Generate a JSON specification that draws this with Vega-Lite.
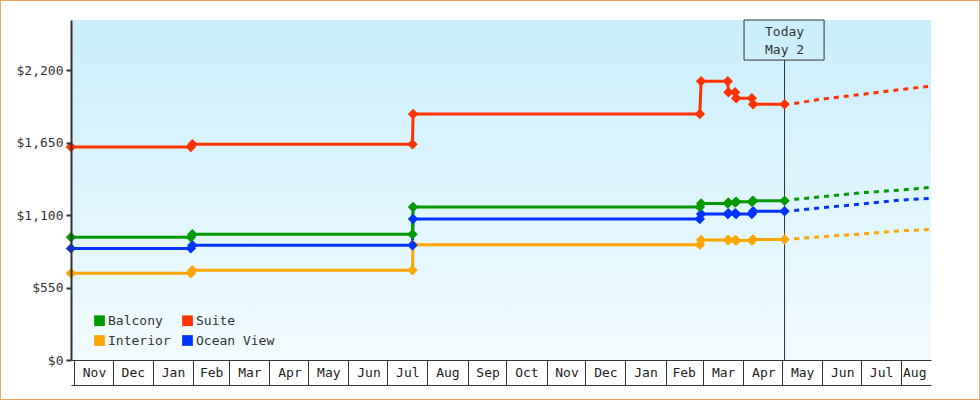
{
  "$schema": "https://vega.github.io/schema/vega-lite/v6.json",
  "width": 980,
  "height": 400,
  "autosize": {"type": "none"},
  "padding": 0,
  "background": "white",
  "config": {
    "view": {"stroke": "#e8a862", "strokeWidth": 2, "fill": "white"},
    "font": "DejaVu Sans Mono"
  },
  "datasets": {
    "history": [
      {"cabin": "Interior", "date": "2022-10-29T16:00:00", "price": 658},
      {"cabin": "Interior", "date": "2023-01-30T06:00:00", "price": 658},
      {"cabin": "Interior", "date": "2023-01-31T10:00:00", "price": 681},
      {"cabin": "Interior", "date": "2023-07-20T10:00:00", "price": 681},
      {"cabin": "Interior", "date": "2023-07-20T22:00:00", "price": 874},
      {"cabin": "Interior", "date": "2024-02-27T10:00:00", "price": 874},
      {"cabin": "Interior", "date": "2024-02-28T10:00:00", "price": 910},
      {"cabin": "Interior", "date": "2024-03-20T00:00:00", "price": 910},
      {"cabin": "Interior", "date": "2024-03-20T12:00:00", "price": 910},
      {"cabin": "Interior", "date": "2024-03-25T17:00:00", "price": 910},
      {"cabin": "Interior", "date": "2024-03-26T12:00:00", "price": 906},
      {"cabin": "Interior", "date": "2024-04-07T14:00:00", "price": 906},
      {"cabin": "Interior", "date": "2024-04-08T14:00:00", "price": 915},
      {"cabin": "Interior", "date": "2024-05-02T21:00:00", "price": 915},
      {"cabin": "Ocean View", "date": "2022-10-29T16:00:00", "price": 847},
      {"cabin": "Ocean View", "date": "2023-01-30T06:00:00", "price": 847},
      {"cabin": "Ocean View", "date": "2023-01-31T10:00:00", "price": 870},
      {"cabin": "Ocean View", "date": "2023-07-20T10:00:00", "price": 870},
      {"cabin": "Ocean View", "date": "2023-07-20T22:00:00", "price": 1070},
      {"cabin": "Ocean View", "date": "2024-02-27T10:00:00", "price": 1070},
      {"cabin": "Ocean View", "date": "2024-02-28T10:00:00", "price": 1108},
      {"cabin": "Ocean View", "date": "2024-03-20T00:00:00", "price": 1108},
      {"cabin": "Ocean View", "date": "2024-03-20T12:00:00", "price": 1113},
      {"cabin": "Ocean View", "date": "2024-03-25T17:00:00", "price": 1113},
      {"cabin": "Ocean View", "date": "2024-03-26T12:00:00", "price": 1108},
      {"cabin": "Ocean View", "date": "2024-04-07T14:00:00", "price": 1108},
      {"cabin": "Ocean View", "date": "2024-04-08T14:00:00", "price": 1128},
      {"cabin": "Ocean View", "date": "2024-05-02T21:00:00", "price": 1128},
      {"cabin": "Balcony", "date": "2022-10-29T16:00:00", "price": 931},
      {"cabin": "Balcony", "date": "2023-01-30T06:00:00", "price": 931},
      {"cabin": "Balcony", "date": "2023-01-31T10:00:00", "price": 954},
      {"cabin": "Balcony", "date": "2023-07-20T10:00:00", "price": 954},
      {"cabin": "Balcony", "date": "2023-07-20T22:00:00", "price": 1161},
      {"cabin": "Balcony", "date": "2024-02-27T10:00:00", "price": 1161},
      {"cabin": "Balcony", "date": "2024-02-28T10:00:00", "price": 1188},
      {"cabin": "Balcony", "date": "2024-03-20T00:00:00", "price": 1188},
      {"cabin": "Balcony", "date": "2024-03-20T12:00:00", "price": 1196},
      {"cabin": "Balcony", "date": "2024-03-25T17:00:00", "price": 1196},
      {"cabin": "Balcony", "date": "2024-03-26T12:00:00", "price": 1201},
      {"cabin": "Balcony", "date": "2024-04-07T14:00:00", "price": 1201},
      {"cabin": "Balcony", "date": "2024-04-08T14:00:00", "price": 1208},
      {"cabin": "Balcony", "date": "2024-05-02T21:00:00", "price": 1208},
      {"cabin": "Suite", "date": "2022-10-29T16:00:00", "price": 1616},
      {"cabin": "Suite", "date": "2023-01-30T06:00:00", "price": 1616},
      {"cabin": "Suite", "date": "2023-01-31T10:00:00", "price": 1638},
      {"cabin": "Suite", "date": "2023-07-20T10:00:00", "price": 1638},
      {"cabin": "Suite", "date": "2023-07-20T22:00:00", "price": 1866},
      {"cabin": "Suite", "date": "2024-02-27T10:00:00", "price": 1866},
      {"cabin": "Suite", "date": "2024-02-28T10:00:00", "price": 2115},
      {"cabin": "Suite", "date": "2024-03-20T00:00:00", "price": 2115},
      {"cabin": "Suite", "date": "2024-03-20T12:00:00", "price": 2032},
      {"cabin": "Suite", "date": "2024-03-25T17:00:00", "price": 2032},
      {"cabin": "Suite", "date": "2024-03-26T12:00:00", "price": 1987},
      {"cabin": "Suite", "date": "2024-04-07T14:00:00", "price": 1987},
      {"cabin": "Suite", "date": "2024-04-08T14:00:00", "price": 1940},
      {"cabin": "Suite", "date": "2024-05-02T21:00:00", "price": 1940}
    ],
    "projection": [
      {"cabin": "Interior", "date": "2024-05-10T08:00:00", "price": 920},
      {"cabin": "Interior", "date": "2024-06-01T00:00:00", "price": 936},
      {"cabin": "Interior", "date": "2024-07-01T00:00:00", "price": 956},
      {"cabin": "Interior", "date": "2024-08-01T00:00:00", "price": 981},
      {"cabin": "Interior", "date": "2024-08-24T00:00:00", "price": 991},
      {"cabin": "Ocean View", "date": "2024-05-10T08:00:00", "price": 1135},
      {"cabin": "Ocean View", "date": "2024-06-01T00:00:00", "price": 1156},
      {"cabin": "Ocean View", "date": "2024-07-01T00:00:00", "price": 1183},
      {"cabin": "Ocean View", "date": "2024-08-01T00:00:00", "price": 1214},
      {"cabin": "Ocean View", "date": "2024-08-24T00:00:00", "price": 1226},
      {"cabin": "Balcony", "date": "2024-05-10T08:00:00", "price": 1219},
      {"cabin": "Balcony", "date": "2024-06-01T00:00:00", "price": 1239},
      {"cabin": "Balcony", "date": "2024-07-01T00:00:00", "price": 1269},
      {"cabin": "Balcony", "date": "2024-08-01T00:00:00", "price": 1290},
      {"cabin": "Balcony", "date": "2024-08-24T00:00:00", "price": 1310},
      {"cabin": "Suite", "date": "2024-05-10T08:00:00", "price": 1947},
      {"cabin": "Suite", "date": "2024-06-01T00:00:00", "price": 1980},
      {"cabin": "Suite", "date": "2024-07-01T00:00:00", "price": 2015},
      {"cabin": "Suite", "date": "2024-08-01T00:00:00", "price": 2053},
      {"cabin": "Suite", "date": "2024-08-24T00:00:00", "price": 2078}
    ],
    "one": [{}]
  },
  "resolve": {"axis": {"x": "independent"}},
  "layer": [
    {
      "data": {"name": "one"},
      "mark": {
        "type": "rect",
        "fill": {
          "gradient": "linear", "x1": 0, "y1": 0, "x2": 0, "y2": 1,
          "stops": [
            {"offset": 0, "color": "#c9eefc"},
            {"offset": 1, "color": "#f2fbff"}
          ]
        }
      },
      "encoding": {
        "x": {
          "datum": {"year": 2022, "month": 10, "date": 29, "hours": 16},
          "type": "temporal",
          "scale": {
            "domain": [
              {"year": 2022, "month": 10, "date": 29, "hours": 16},
              {"year": 2024, "month": 8, "date": 24}
            ],
            "range": [71, 931]
          },
          "axis": {
            "orient": "bottom", "offset": -15, "zindex": 1, "title": null, "grid": false,
            "domain": true, "domainColor": "#333", "domainWidth": 1,
            "ticks": false, "labels": false
          }
        },
        "x2": {"datum": {"year": 2024, "month": 8, "date": 24}},
        "y": {
          "datum": 0,
          "type": "quantitative",
          "scale": {"domain": [0, 2580], "range": [360, 20], "nice": false}
        },
        "y2": {"datum": 2580}
      }
    },
    {
      "data": {"name": "one"},
      "mark": {"type": "rule", "color": "#333", "strokeWidth": 1},
      "encoding": {
        "x": {"datum": {"year": 2024, "month": 5, "date": 2, "hours": 21}, "type": "temporal", "axis": null},
        "y": {"datum": 0, "type": "quantitative"},
        "y2": {"datum": 2276}
      }
    },
    {
      "data": {"name": "one"},
      "mark": {"type": "rect", "fill": "transparent", "stroke": "#333", "strokeWidth": 1},
      "encoding": {
        "x": {"datum": {"year": 2024, "month": 4, "date": 1, "hours": 14}, "type": "temporal", "axis": null},
        "x2": {"datum": {"year": 2024, "month": 6, "date": 2, "hours": 10}},
        "y": {"datum": 2580, "type": "quantitative"},
        "y2": {"datum": 2276}
      }
    },
    {
      "data": {"name": "one"},
      "mark": {
        "type": "text", "text": ["Today", "May 2"], "lineHeight": 18,
        "baseline": "middle", "align": "center",
        "font": "DejaVu Sans Mono", "fontSize": 13, "color": "#333"
      },
      "encoding": {
        "x": {"datum": {"year": 2024, "month": 5, "date": 2, "hours": 21}, "type": "temporal", "axis": null},
        "y": {"datum": 2486, "type": "quantitative"}
      }
    },
    {
      "data": {"name": "history"},
      "mark": {
        "type": "line", "strokeWidth": 3,
        "point": {"shape": "diamond", "size": 110, "filled": true, "opacity": 1}
      },
      "encoding": {
        "x": {
          "field": "date", "type": "temporal",
          "axis": {
            "orient": "bottom", "offset": -40, "zindex": 1, "title": null, "grid": false,
            "domain": true, "domainColor": "#333", "domainWidth": 1,
            "ticks": true, "tickSize": 25, "tickColor": "#333", "tickWidth": 1,
            "tickCount": {"interval": "month", "step": 1},
            "format": "%b",
            "labelFont": "DejaVu Sans Mono", "labelFontSize": 13, "labelColor": "#222",
            "labelAlign": "center", "labelBaseline": "top", "labelPadding": -19,
            "labelFlush": false, "labelOverlap": false, "labelBound": false,
            "labelOffset": {
              "condition": [
                {"test": "month(datum.value) == 1", "value": 18},
                {"test": "datum.value > datetime(2024, 6, 15)", "value": 13}
              ],
              "value": 20
            }
          }
        },
        "y": {
          "field": "price", "type": "quantitative",
          "axis": {
            "orient": "left", "offset": -71, "zindex": 1, "title": null, "grid": false,
            "values": [0, 550, 1100, 1650, 2200], "format": "$,.0f",
            "domain": true, "domainColor": "#333", "domainWidth": 2,
            "ticks": true, "tickColor": "#333", "tickSize": 5, "tickWidth": 2,
            "labels": true,
            "labelFont": "DejaVu Sans Mono", "labelFontSize": 13, "labelColor": "#333", "labelPadding": 3
          }
        },
        "color": {
          "field": "cabin", "type": "nominal",
          "scale": {
            "domain": ["Balcony", "Interior", "Suite", "Ocean View"],
            "range": ["#009900", "#ffa500", "#ff3300", "#0033ff"]
          },
          "legend": {
            "orient": "none", "legendX": 93, "legendY": 314, "columns": 2, "title": null,
            "symbolType": "square", "symbolSize": 115, "symbolStrokeWidth": 0,
            "labelFont": "DejaVu Sans Mono", "labelFontSize": 13, "labelColor": "#333",
            "labelOffset": 2, "columnPadding": 10, "rowPadding": 6, "padding": 0,
            "encode": {"symbols": {"update": {"fill": {"scale": "color", "field": "value"}, "opacity": {"value": 1}}}}
          }
        }
      }
    },
    {
      "data": {"name": "projection"},
      "mark": {"type": "line", "strokeWidth": 3, "strokeDash": [5, 5]},
      "encoding": {
        "x": {"field": "date", "type": "temporal", "axis": null},
        "y": {"field": "price", "type": "quantitative"},
        "color": {"field": "cabin", "type": "nominal", "legend": null}
      }
    }
  ]
}
